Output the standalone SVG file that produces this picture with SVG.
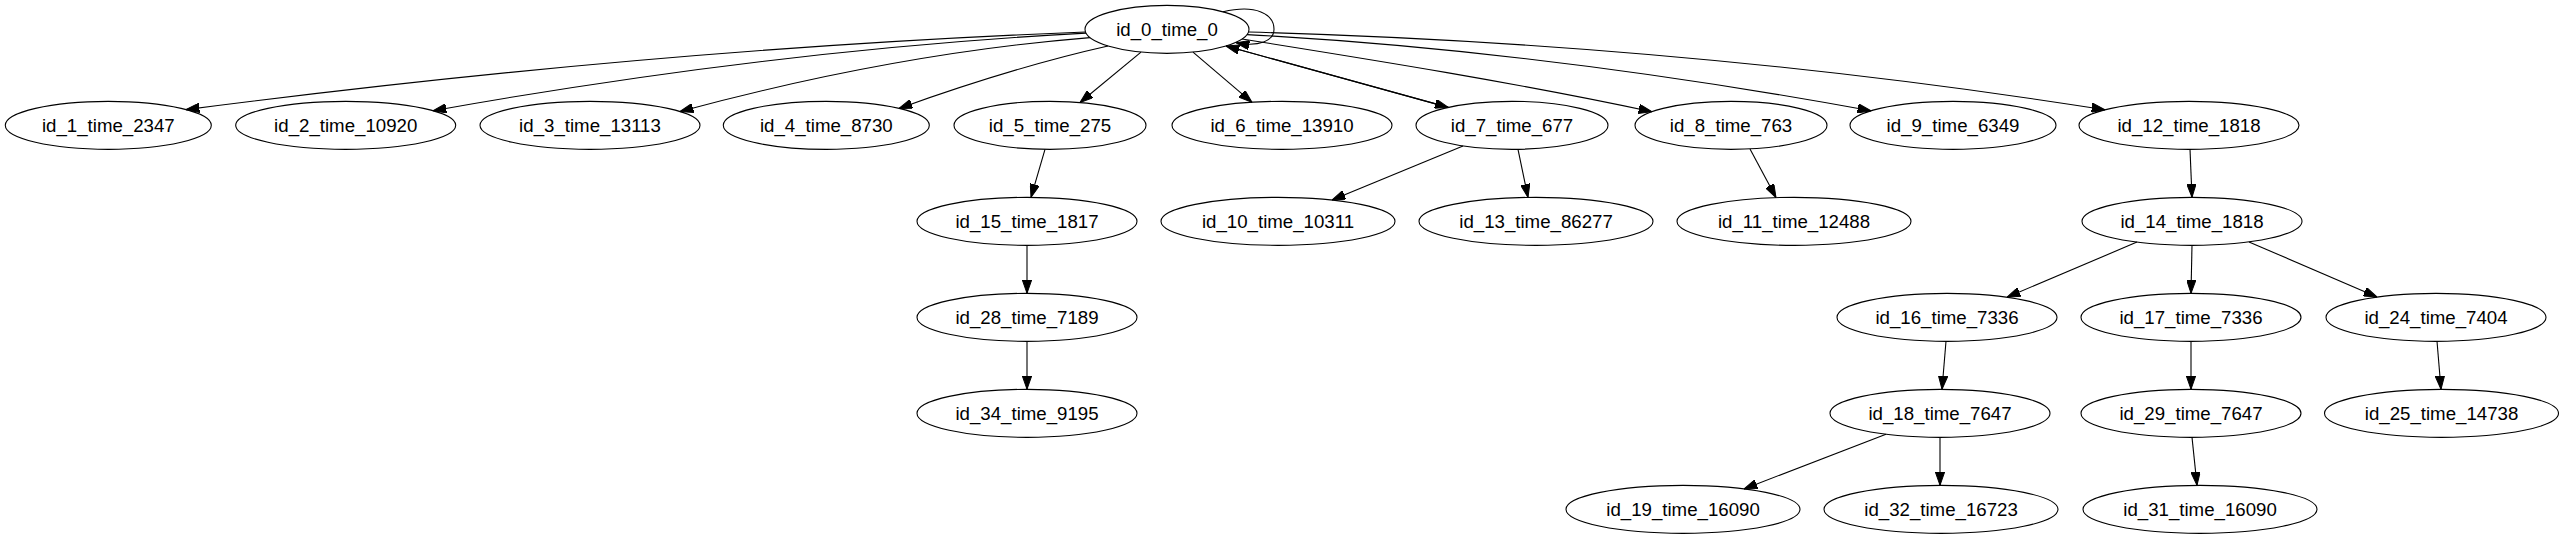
<svg xmlns="http://www.w3.org/2000/svg" width="2564" height="539" viewBox="0 0 2564 539">
<style>
.node ellipse{fill:none;stroke:#000;stroke-width:1.1}
.node text{font-family:"Liberation Sans",Arial,Helvetica,sans-serif;font-size:18.67px;text-anchor:middle;fill:#000}
#edges path{fill:none;stroke:#000;stroke-width:1.1;marker-end:url(#ah)}
</style>
<defs>
<marker id="ah" viewBox="0 0 13.33 9.33" refX="13.33" refY="4.67" markerWidth="13.33" markerHeight="9.33" markerUnits="userSpaceOnUse" orient="auto"><path d="M0,0 L13.33,4.67 L0,9.33 z" fill="#000" stroke="#000" stroke-width="1"/></marker>
</defs>
<rect x="0" y="0" width="2564" height="539" fill="#fff"/>
<g id="edges">
<path d="M1085.5,32 C785.7,43.6 485.8,70.8 186,109.6"/>
<path d="M1086,33.1 C868.3,44.7 650.7,71.9 433,110.7"/>
<path d="M1090,37.6 C953.3,48.7 816.7,74.6 680,111.5"/>
<path d="M1108,46 C1038.3,61.6 968.7,83.4 899,108.4"/>
<path d="M1141,52.1 L1080,102.5"/>
<path d="M1193,52.1 L1252,102.3"/>
<path d="M1226,46 L1448.3,107.4"/>
<path d="M1448.3,107.4 L1226,46"/>
<path d="M1242,39 C1378.7,60.8 1515.3,82.6 1652,111.7"/>
<path d="M1247,34.6 C1455,46 1663,72.7 1871,110.8"/>
<path d="M1248.5,32 C1534,39.8 1819.5,64.7 2105,109.8"/>
<path d="M1223,11.8 C1256,4 1274,14 1274,29.3 C1274,41 1259,47 1236,42.8"/>
<path d="M1045,149.3 L1031,197.4"/>
<path d="M1027,245.3 L1027,293.3"/>
<path d="M1027,341.3 L1027,389.3"/>
<path d="M1463,146 L1332,200"/>
<path d="M1518,149.3 L1528,197.4"/>
<path d="M1750,148.9 L1776,197.6"/>
<path d="M2190,149.3 L2192,197.3"/>
<path d="M2137,242.1 L2007,297.2"/>
<path d="M2192,245.3 L2191,293.3"/>
<path d="M2249,241.9 L2377,297"/>
<path d="M1946,341.3 L1942,389.3"/>
<path d="M2191,341.3 L2191,389.3"/>
<path d="M2437,341.3 L2441,389.3"/>
<path d="M1886,434.2 L1744,488.9"/>
<path d="M1940,437.3 L1940,485.3"/>
<path d="M2192,437.3 L2197,485.3"/>
</g>
<g id="id_0" class="node"><ellipse cx="1167" cy="29.33" rx="82" ry="24"/><text x="1167" y="35.6">id_0_time_0</text></g>
<g id="id_1" class="node"><ellipse cx="108.3" cy="125.33" rx="103" ry="24"/><text x="108.3" y="131.6">id_1_time_2347</text></g>
<g id="id_2" class="node"><ellipse cx="345.7" cy="125.33" rx="110" ry="24"/><text x="345.7" y="131.6">id_2_time_10920</text></g>
<g id="id_3" class="node"><ellipse cx="590" cy="125.33" rx="110" ry="24"/><text x="590" y="131.6">id_3_time_13113</text></g>
<g id="id_4" class="node"><ellipse cx="826.3" cy="125.33" rx="103" ry="24"/><text x="826.3" y="131.6">id_4_time_8730</text></g>
<g id="id_5" class="node"><ellipse cx="1050" cy="125.33" rx="96" ry="24"/><text x="1050" y="131.6">id_5_time_275</text></g>
<g id="id_6" class="node"><ellipse cx="1282" cy="125.33" rx="110" ry="24"/><text x="1282" y="131.6">id_6_time_13910</text></g>
<g id="id_7" class="node"><ellipse cx="1512" cy="125.33" rx="96" ry="24"/><text x="1512" y="131.6">id_7_time_677</text></g>
<g id="id_8" class="node"><ellipse cx="1731" cy="125.33" rx="96" ry="24"/><text x="1731" y="131.6">id_8_time_763</text></g>
<g id="id_9" class="node"><ellipse cx="1953" cy="125.33" rx="103" ry="24"/><text x="1953" y="131.6">id_9_time_6349</text></g>
<g id="id_12" class="node"><ellipse cx="2189" cy="125.33" rx="110" ry="24"/><text x="2189" y="131.6">id_12_time_1818</text></g>
<g id="id_15" class="node"><ellipse cx="1027" cy="221.33" rx="110" ry="24"/><text x="1027" y="227.6">id_15_time_1817</text></g>
<g id="id_10" class="node"><ellipse cx="1278" cy="221.33" rx="117" ry="24"/><text x="1278" y="227.6">id_10_time_10311</text></g>
<g id="id_13" class="node"><ellipse cx="1536" cy="221.33" rx="117" ry="24"/><text x="1536" y="227.6">id_13_time_86277</text></g>
<g id="id_11" class="node"><ellipse cx="1794" cy="221.33" rx="117" ry="24"/><text x="1794" y="227.6">id_11_time_12488</text></g>
<g id="id_14" class="node"><ellipse cx="2192" cy="221.33" rx="110" ry="24"/><text x="2192" y="227.6">id_14_time_1818</text></g>
<g id="id_28" class="node"><ellipse cx="1027" cy="317.33" rx="110" ry="24"/><text x="1027" y="323.6">id_28_time_7189</text></g>
<g id="id_16" class="node"><ellipse cx="1947" cy="317.33" rx="110" ry="24"/><text x="1947" y="323.6">id_16_time_7336</text></g>
<g id="id_17" class="node"><ellipse cx="2191" cy="317.33" rx="110" ry="24"/><text x="2191" y="323.6">id_17_time_7336</text></g>
<g id="id_24" class="node"><ellipse cx="2436" cy="317.33" rx="110" ry="24"/><text x="2436" y="323.6">id_24_time_7404</text></g>
<g id="id_34" class="node"><ellipse cx="1027" cy="413.33" rx="110" ry="24"/><text x="1027" y="419.6">id_34_time_9195</text></g>
<g id="id_18" class="node"><ellipse cx="1940" cy="413.33" rx="110" ry="24"/><text x="1940" y="419.6">id_18_time_7647</text></g>
<g id="id_29" class="node"><ellipse cx="2191" cy="413.33" rx="110" ry="24"/><text x="2191" y="419.6">id_29_time_7647</text></g>
<g id="id_25" class="node"><ellipse cx="2441.5" cy="413.33" rx="117" ry="24"/><text x="2441.5" y="419.6">id_25_time_14738</text></g>
<g id="id_19" class="node"><ellipse cx="1683" cy="509.33" rx="117" ry="24"/><text x="1683" y="515.6">id_19_time_16090</text></g>
<g id="id_32" class="node"><ellipse cx="1941" cy="509.33" rx="117" ry="24"/><text x="1941" y="515.6">id_32_time_16723</text></g>
<g id="id_31" class="node"><ellipse cx="2200" cy="509.33" rx="117" ry="24"/><text x="2200" y="515.6">id_31_time_16090</text></g>
</svg>
